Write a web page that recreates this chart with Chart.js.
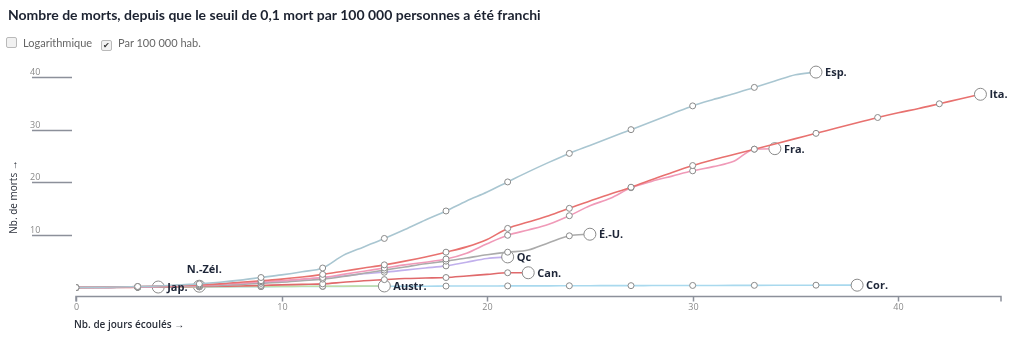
<!DOCTYPE html>
<html>
<head>
<meta charset="utf-8">
<script src="https://cdn.jsdelivr.net/npm/chart.js@4.4.1/dist/chart.umd.min.js"></script>
<style>
  body { margin: 0; background: #fff; font-family: Lato, "Open Sans", sans-serif; }
  #wrap { position: relative; width: 1023px; height: 342px; overflow: hidden; }
  h1 { position: absolute; left: 8px; top: 6px; margin: 0; font-size: 14px; font-weight: bold; color: #1c2230; white-space: nowrap; }
  .opts { position: absolute; top: 36px; left: 6px; font-size: 11px; color: #666; }
  .opt { display: inline-block; margin-right: 6px; }
  .box { display: inline-block; width: 9px; height: 9px; border: 1px solid #b9b9b9; border-radius: 2px; background: #f1f1f1; vertical-align: -1px; margin-right: 6px; font-size: 8px; line-height: 9px; text-align: center; color: #333; }
  canvas { position: absolute; left: 0; top: 0; }
</style>
</head>
<body>
<div id="wrap">
  <canvas id="chart" width="1023" height="342"></canvas>
  <h1>Nombre de morts, depuis que le seuil de 0,1 mort par 100 000 personnes a été franchi</h1>
  <div class="opts">
    <span class="opt"><span class="box"></span>Logarithmique</span>
    <span class="opt"><span class="box">✔</span>Par 100 000 hab.</span>
  </div>
</div>
<script>
// deaths per 100 000, one value per day since the 0.1 threshold
const espDeaths = [0.1, 0.15, 0.2, 0.3, 0.4, 0.6, 0.8, 1.1, 1.5, 2.0, 2.5, 3.1, 3.8, 6.2, 7.8, 9.4, 11.1, 12.9, 14.6, 16.5, 18.2, 20.1, 22.0, 23.8, 25.5, 27.0, 28.5, 30.0, 31.5, 33.0, 34.5, 35.7, 36.8, 38.0, 39.2, 40.4, 40.9];
const itaDeaths = [0.1, 0.15, 0.2, 0.3, 0.4, 0.5, 0.6, 0.8, 1.1, 1.4, 1.7, 2.1, 2.6, 3.2, 3.8, 4.4, 5.1, 5.9, 6.8, 7.8, 9.2, 11.3, 12.5, 13.7, 15.1, 16.5, 17.8, 19.1, 20.5, 21.9, 23.2, 24.3, 25.3, 26.3, 27.3, 28.3, 29.3, 30.3, 31.3, 32.3, 33.2, 34.0, 34.9, 35.8, 36.7];
const fraDeaths = [0.1, 0.1, 0.15, 0.2, 0.3, 0.4, 0.5, 0.7, 0.9, 1.2, 1.4, 1.7, 2.0, 2.6, 3.2, 3.8, 4.4, 4.9, 5.5, 6.6, 8.4, 10.0, 11.0, 12.1, 13.7, 15.6, 17.0, 19.0, 20.2, 21.2, 22.2, 23.0, 24.0, 26.3, 26.4];
const usaDeaths = [0.1, 0.1, 0.15, 0.2, 0.25, 0.3, 0.4, 0.5, 0.7, 0.9, 1.1, 1.4, 1.7, 2.2, 2.8, 3.4, 4.0, 4.6, 5.1, 5.7, 6.3, 6.8, 7.2, 8.6, 9.9, 10.2];
const qcDeaths = [0.1, 0.1, 0.15, 0.2, 0.3, 0.4, 0.5, 0.6, 0.8, 1.0, 1.3, 1.6, 2.0, 2.3, 2.7, 3.0, 3.4, 3.8, 4.2, 4.9, 5.6, 5.9];
const canDeaths = [0.1, 0.1, 0.1, 0.15, 0.2, 0.25, 0.3, 0.35, 0.4, 0.5, 0.6, 0.7, 0.8, 1.1, 1.4, 1.6, 1.8, 1.9, 2.0, 2.3, 2.6, 2.9, 2.9];
const ausDeaths = [0.1, 0.1, 0.15, 0.15, 0.2, 0.2, 0.25, 0.25, 0.3, 0.3, 0.3, 0.35, 0.35, 0.35, 0.4, 0.4];
const corDeaths = [0.1, 0.12, 0.14, 0.17, 0.18, 0.2, 0.22, 0.23, 0.25, 0.27, 0.3, 0.31, 0.31, 0.33, 0.34, 0.35, 0.36, 0.36, 0.38, 0.39, 0.4, 0.41, 0.42, 0.42, 0.44, 0.45, 0.46, 0.46, 0.48, 0.49, 0.5, 0.5, 0.51, 0.52, 0.53, 0.54, 0.55, 0.55, 0.55];
const japDeaths = [0.1, 0.12, 0.15, 0.18, 0.2];
const nzDeaths = [0.1, 0.12, 0.15, 0.2, 0.25, 0.3, 0.35];

const labels = ["Esp.", "Ita.", "Fra.", "É.-U.", "Qc", "Can.", "Austr.", "Cor.", "Jap.", "N.-Zél."];
const colors = ["#a9c6d1", "#e8716f", "#f09ab8", "#ababab", "#c1b0ec", "#e0696b", "#bfdda6", "#a9d9ee", "#c9a7d6", "#d8a9a4"];
const series = [espDeaths, itaDeaths, fraDeaths, usaDeaths, qcDeaths, canDeaths, ausDeaths, corDeaths, japDeaths, nzDeaths];
const xTicks = [0, 10, 20, 30, 40];
const yTicks = [10, 20, 30, 40];

const datasets = series.map((vals, i) => ({
  label: labels[i],
  data: vals.map((v, d) => ({ x: d, y: v })),
  borderColor: colors[i],
  borderWidth: 1.6,
  cubicInterpolationMode: "monotone",
  pointBackgroundColor: "#fff",
  pointBorderColor: "#8a8a8a",
  pointBorderWidth: 1,
  pointRadius: (ctx) => {
    const last = ctx.dataset.data.length - 1;
    if (ctx.dataIndex === last) return 6;
    return ctx.dataIndex % 3 === 0 ? 3 : 0;
  },
}));

const axesPlugin = {
  id: "axes",
  beforeDatasetsDraw(chart) {
    const c = chart.ctx;
    const xs = chart.scales.x, ys = chart.scales.y;
    const area = chart.chartArea;
    c.save();
    c.strokeStyle = "#8c909a";
    c.lineWidth = 1.5;
    c.fillStyle = "#8a8a8a";
    c.font = "9px 'Open Sans', sans-serif";
    c.textAlign = "left";
    c.textBaseline = "alphabetic";
    yTicks.forEach((t) => {
      const y = Math.round(ys.getPixelForValue(t)) + 0.5;
      c.beginPath();
      c.moveTo(32, y);
      c.lineTo(72, y);
      c.stroke();
      c.fillText(String(t), 30, y - 3);
    });
    // x axis
    const yb = area.bottom + 0.5;
    c.beginPath();
    c.moveTo(area.left, yb + 5);
    c.lineTo(area.left, yb);
    c.lineTo(area.right, yb);
    c.lineTo(area.right, yb + 5);
    c.stroke();
    c.textAlign = "center";
    c.textBaseline = "top";
    xTicks.forEach((t) => {
      const x = Math.round(xs.getPixelForValue(t)) + 0.5;
      c.beginPath();
      c.moveTo(x, yb);
      c.lineTo(x, yb + 5);
      c.stroke();
      c.fillText(String(t), x, yb + 6);
    });
    c.fillStyle = "#2a2f3a";
    c.font = "600 10px 'Open Sans', sans-serif";
    c.textAlign = "left";
    c.fillText("Nb. de jours écoulés →", 74, 320);
    c.font = "10px 'Open Sans', sans-serif";
    c.translate(14, 197);
    c.rotate(-Math.PI / 2);
    c.textAlign = "center";
    c.textBaseline = "middle";
    c.fillText("Nb. de morts →", 0, 0);
    c.restore();
  },
  afterDatasetsDraw(chart) {
    const c = chart.ctx;
    c.save();
    c.fillStyle = "#1e2638";
    c.font = "bold 11px 'Open Sans', sans-serif";
    c.textBaseline = "middle";
    chart.data.datasets.forEach((ds, i) => {
      const meta = chart.getDatasetMeta(i);
      const pt = meta.data[meta.data.length - 1];
      if (ds.label === "N.-Zél.") {
        c.textAlign = "center";
        c.fillText(ds.label, pt.x + 5, pt.y - 16);
      } else {
        c.textAlign = "left";
        c.fillText(ds.label, pt.x + 9, pt.y + 1);
      }
    });
    c.restore();
  },
};

new Chart(document.getElementById("chart"), {
  type: "line",
  data: { datasets },
  options: {
    responsive: false,
    animation: false,
    layout: { padding: { left: 76, right: 22, top: 61, bottom: 46 } },
    plugins: { legend: { display: false }, tooltip: { enabled: false } },
    scales: {
      x: { type: "linear", min: 0, max: 45, display: false },
      y: { min: -1.5, max: 43, display: false },
    },
  },
  plugins: [axesPlugin],
});
</script>
</body>
</html>
